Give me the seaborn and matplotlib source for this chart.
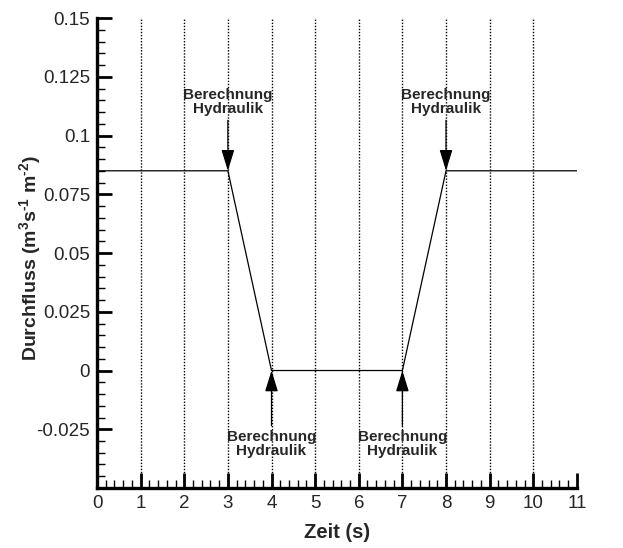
import matplotlib
matplotlib.use("Agg")
import matplotlib.pyplot as plt
import seaborn as sns
import pandas as pd
from matplotlib.ticker import MultipleLocator

# Data
zeit = [0, 3, 4, 7, 8, 11]
durchfluss = [0.085, 0.085, 0.0, 0.0, 0.085, 0.085]
top_arrow_x = [3, 8]
bottom_arrow_x = [4, 7]
annot_text = "Berechnung\nHydraulik"
x_ticks = list(range(0, 12))
y_ticks = [-0.025, 0, 0.025, 0.05, 0.075, 0.1, 0.125, 0.15]
y_tick_labels = ["-0.025", "0", "0.025", "0.05", "0.075", "0.1", "0.125", "0.15"]

sns.set_style("ticks")
plt.rcParams['font.family'] = ['Liberation Sans', 'DejaVu Sans']
plt.rcParams['mathtext.fontset'] = 'custom'
plt.rcParams['mathtext.rm'] = 'Liberation Sans:bold'
plt.rcParams['mathtext.bf'] = 'Liberation Sans:bold'
plt.rcParams['mathtext.it'] = 'Liberation Sans:bold'

fig = plt.figure(figsize=(6.23, 5.48), dpi=100)
ax = fig.add_axes([0.1557, 0.1095, 0.926 - 0.1557, 0.967 - 0.1095])

df = pd.DataFrame({"Zeit": zeit, "Durchfluss": durchfluss})
sns.lineplot(data=df, x="Zeit", y="Durchfluss", ax=ax, color="black", linewidth=0.9,
             sort=False, zorder=3)

ax.set_xlim(0, 11)
ax.set_ylim(-0.05, 0.15)

# vertical dotted grid
for xv in range(1, 11):
    ax.axvline(xv, color="black", linestyle=(0, (1, 1.2)), linewidth=1.0, zorder=1)

ax.set_xticks(x_ticks)
ax.set_xticklabels([str(v) for v in x_ticks], fontsize=13.5)
ax.set_yticks(y_ticks)
ax.set_yticklabels(y_tick_labels, fontsize=13.5)
ax.xaxis.set_minor_locator(MultipleLocator(0.2))
ax.yaxis.set_minor_locator(MultipleLocator(0.005))
ax.tick_params(which="major", direction="in", length=11, width=2, color="black", pad=5)
ax.tick_params(which="minor", direction="in", length=6, width=1, color="black")

for s in ["top", "right"]:
    ax.spines[s].set_visible(False)
for s in ["left", "bottom"]:
    ax.spines[s].set_linewidth(2.4)
    ax.spines[s].set_color("black")

ax.set_xlabel("Zeit (s)", fontsize=14.5, fontweight="bold", labelpad=8)
ax.set_ylabel(r"Durchfluss (m$^{3}$s$^{\text{-}1}$ m$^{\text{-}2}$)", fontsize=14,
              fontweight="bold")
ax.yaxis.set_label_coords(-0.112, 0.49)

arrow_props = dict(arrowstyle="-|>,head_length=1.3,head_width=0.4", color="black",
                   linewidth=0.9, shrinkA=0, shrinkB=0)
y_top = durchfluss[1]
for xv in top_arrow_x:
    ax.annotate("", xy=(xv, y_top), xytext=(xv, 0.1065), arrowprops=arrow_props, zorder=4)
    ax.text(xv, 0.1085, annot_text, ha="center", va="bottom", fontsize=11,
            fontweight="bold", linespacing=1.0, zorder=5)
for xv in bottom_arrow_x:
    ax.annotate("", xy=(xv, 0.0), xytext=(xv, -0.0235), arrowprops=arrow_props, zorder=4)
    ax.text(xv, -0.0255, annot_text, ha="center", va="top", fontsize=11,
            fontweight="bold", linespacing=1.0, zorder=5)

fig.savefig("out.png", dpi=100)
